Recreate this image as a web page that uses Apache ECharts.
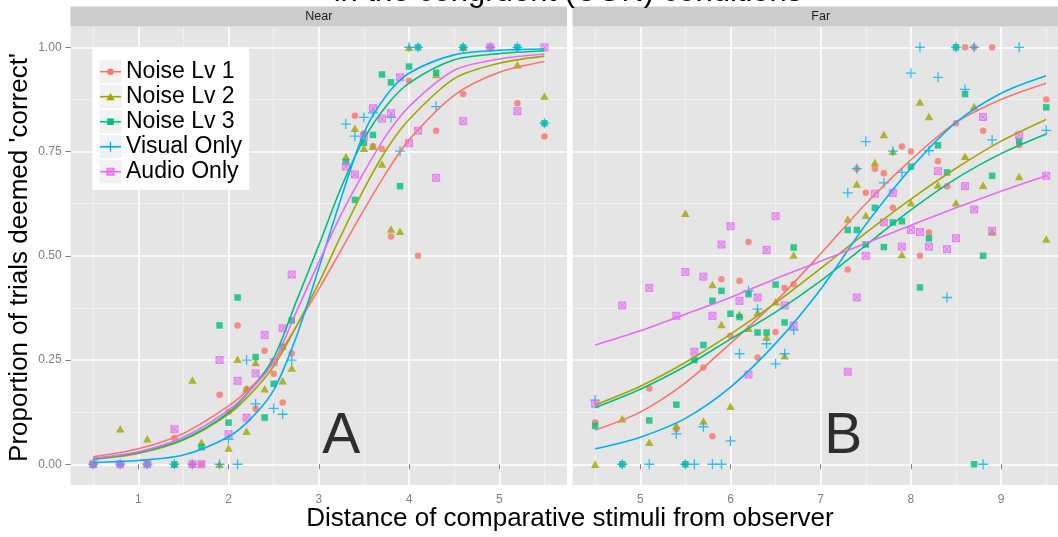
<!DOCTYPE html>
<html><head><meta charset="utf-8">
<script src="https://cdn.jsdelivr.net/npm/echarts@6/dist/echarts.min.js"></script>
<style>html,body{margin:0;padding:0;overflow:hidden;background:#fff;width:1058px;height:537px}#c{width:1070px;height:537px}</style>
</head><body><div id="c"></div><script>
// ---------- data ----------
const seriesNames = ['Noise Lv 1','Noise Lv 2','Noise Lv 3','Visual Only','Audio Only'];
const panelNames = ['Near','Far'];
const annotations = ['A','B'];
const titleText = 'in the congruent (CON) conditions';
const xTitle = 'Distance of comparative stimuli from observer';
const yTitle = "Proportion of trials deemed 'correct'";

const xTicksNear = [1,2,3,4,5];
const xTicksFar = [5,6,7,8,9];
const xMinorNear = [0.5,1.5,2.5,3.5,4.5,5.5];
const xMinorFar = [4.5,5.5,6.5,7.5,8.5,9.5];
const yTicks = [0,0.25,0.5,0.75,1];
const yMinor = [0.125,0.375,0.625,0.875];
const xRangeNear = [0.25,5.75];
const xRangeFar = [4.25,9.75];
const yRange = [-0.05,1.05];
const annotPos = [[3.25,0.064],[7.25,0.064]];

// Near panel points
const nearNoise1 = [[0.5,0],[0.8,0],[1.1,0],[1.4,0.063],[1.6,0],[1.7,0],[1.9,0.167],[2.0,0.126],[2.1,0.333],[2.2,0.18],[2.3,0.133],[2.4,0.272],[2.5,0.217],[2.6,0.148],[2.7,0.266],[3.4,0.836],[3.5,0.794],[3.6,0.763],[3.7,0.756],[3.8,0.546],[4.0,0.92],[4.1,0.5],[4.3,0.8],[4.6,0.888],[4.9,1],[5.2,0.866],[5.5,0.786]];
const nearNoise2 = [[0.5,0],[0.8,0.085],[1.1,0.061],[1.4,0],[1.6,0.202],[1.7,0.053],[1.9,0],[2.0,0.039],[2.1,0.252],[2.2,0.079],[2.2,0.181],[2.3,0.244],[2.4,0.181],[2.6,0.2],[2.7,0.231],[3.3,0.738],[3.4,0.806],[3.5,0.758],[3.6,0.763],[3.7,0.72],[3.8,0.564],[3.9,0.559],[4.0,1],[4.3,0.935],[4.6,1],[5.2,0.958],[5.5,0.883]];
const nearNoise3 = [[0.5,0],[0.8,0],[1.1,0],[1.4,0],[1.7,0.041],[1.9,0.333],[2.0,0.1],[2.1,0.4],[2.3,0.257],[2.4,0.112],[2.5,0.193],[2.6,0.282],[2.7,0.345],[3.3,0.725],[3.4,0.634],[3.5,0.771],[3.6,0.79],[3.7,0.935],[3.8,0.916],[3.9,0.667],[4.0,0.954],[4.1,1],[4.3,0.939],[4.6,1],[5.2,1],[5.5,0.818]];
const nearVisual = [[0.5,0],[0.8,0],[1.1,0],[1.4,0],[1.6,0],[1.9,0],[2.0,0.06],[2.1,0],[2.2,0.25],[2.3,0.145],[2.5,0.134],[2.6,0.12],[2.7,0.25],[3.3,0.816],[3.4,0.787],[3.5,0.832],[3.6,0.843],[3.8,0.832],[3.9,0.751],[4.0,1],[4.1,1],[4.3,0.858],[4.6,1],[4.9,1],[5.2,1],[5.5,0.818]];
const nearAudio = [[0.5,0],[0.8,0],[1.1,0],[1.4,0.084],[1.6,0],[1.7,0],[1.9,0.25],[2.0,0.072],[2.1,0.2],[2.2,0.112],[2.3,0.218],[2.4,0.31],[2.5,0.245],[2.6,0.326],[2.7,0.455],[3.3,0.714],[3.4,0.695],[3.5,0.787],[3.6,0.854],[3.7,0.829],[3.8,0.842],[3.9,0.928],[4.0,0.77],[4.1,0.8],[4.3,0.687],[4.6,0.823],[4.9,1],[5.2,0.847],[5.5,1]];

// Far panel points
const farNoise1 = [[4.5,0.1],[5.1,0.182],[5.4,0.084],[5.7,0.232],[5.8,0.067],[5.9,0.444],[6.0,0.308],[6.1,0.44],[6.2,0.533],[6.3,0.256],[6.5,0.317],[6.6,0.423],[6.7,0.432],[7.3,0.467],[7.4,0.709],[7.5,0.651],[7.6,0.709],[7.7,0.698],[7.8,0.615],[7.9,0.762],[8.0,0.75],[8.1,0.5],[8.2,0.556],[8.3,0.727],[8.4,0.667],[8.5,0.818],[8.6,1],[8.7,1],[8.8,0.8],[8.9,1],[9.2,0.766],[9.5,0.875]];
const farNoise2 = [[4.5,0],[4.8,0.109],[5.1,0.053],[5.4,0.093],[5.5,0.602],[5.7,0.104],[5.8,0.431],[5.9,0.335],[6.0,0.139],[6.1,0.36],[6.2,0.326],[6.3,0.364],[6.4,0.305],[6.5,0.39],[6.6,0.26],[6.7,0.502],[7.3,0.588],[7.4,0.672],[7.5,0.597],[7.6,0.724],[7.7,0.791],[7.8,0.751],[7.9,0.503],[8.0,0.627],[8.1,0.869],[8.2,0.834],[8.3,0.67],[8.5,0.627],[8.6,0.739],[8.7,0.858],[8.8,0.669],[8.9,0.557],[9.2,0.69],[9.5,0.54]];
const farNoise3 = [[4.5,0.092],[4.8,0],[5.1,0.105],[5.4,0.143],[5.5,0],[5.6,0.25],[5.7,0.286],[5.8,0.392],[5.9,0.416],[6.0,0.361],[6.1,0.353],[6.2,0.408],[6.3,0.316],[6.4,0.316],[6.5,0.431],[6.6,0.34],[6.7,0.52],[7.3,0.562],[7.4,0.562],[7.5,0.527],[7.6,0.615],[7.7,0.521],[7.8,0.58],[7.9,0.583],[8.0,0.714],[8.1,0.424],[8.2,0.542],[8.3,0.765],[8.4,0.7],[8.5,1],[8.6,0.888],[8.7,0],[8.8,0.5],[8.9,0.692],[9.2,0.775],[9.5,0.856]];
const farVisual = [[4.5,0.154],[4.8,0],[5.1,0],[5.4,0.073],[5.5,0],[5.6,0],[5.7,0.09],[5.8,0],[5.9,0],[6.0,0.056],[6.1,0.265],[6.2,0.416],[6.3,0.372],[6.4,0.289],[6.5,0.241],[6.6,0.265],[6.7,0.322],[7.3,0.651],[7.4,0.709],[7.5,0.774],[7.7,0.675],[7.8,0.751],[7.9,0.7],[8.0,0.938],[8.1,1],[8.2,0.752],[8.3,0.928],[8.4,0.4],[8.5,1],[8.6,0.899],[8.7,1],[8.8,0],[8.9,0.778],[9.2,1],[9.5,0.801]];
const farAudio = [[4.5,0.145],[4.8,0.381],[5.1,0.423],[5.4,0.356],[5.5,0.461],[5.6,0.27],[5.7,0.45],[5.8,0.356],[5.9,0.527],[6.0,0.571],[6.1,0.392],[6.2,0.215],[6.3,0.4],[6.4,0.514],[6.5,0.595],[6.6,0.381],[6.7,0.333],[7.3,0.222],[7.4,0.4],[7.5,0.5],[7.6,0.649],[7.7,0.58],[7.8,0.651],[7.9,0.522],[8.0,0.562],[8.1,0.557],[8.2,0.522],[8.3,0.703],[8.4,0.516],[8.5,0.542],[8.6,0.667],[8.7,0.611],[8.8,0.833],[8.9,0.56],[9.2,0.789],[9.5,0.692]];

// fitted curves
const nearCurveX = [0.5,1,1.5,2,2.25,2.5,2.75,3,3.25,3.5,3.75,4,4.5,5,5.5];
const nearFit1 = [0.018,0.037,0.074,0.14,0.185,0.245,0.33,0.42,0.515,0.61,0.70,0.778,0.885,0.94,0.966];
const nearFit2 = [0.012,0.026,0.058,0.12,0.17,0.235,0.33,0.435,0.55,0.66,0.755,0.827,0.925,0.962,0.979];
const nearFit3 = [0.012,0.028,0.06,0.124,0.18,0.255,0.39,0.525,0.665,0.78,0.86,0.914,0.97,0.985,0.992];
const nearFitV = [0.004,0.009,0.022,0.066,0.11,0.178,0.305,0.47,0.64,0.795,0.885,0.938,0.982,0.993,0.996];
const nearFitA = [0.015,0.03,0.065,0.13,0.18,0.245,0.365,0.485,0.6,0.70,0.79,0.858,0.945,0.972,0.984];
const farCurveX = [4.5,5,5.5,6,6.5,7,7.5,8,8.5,9,9.5];
const farFit1 = [0.082,0.125,0.195,0.29,0.39,0.505,0.625,0.73,0.82,0.875,0.914];
const farFit2 = [0.142,0.187,0.244,0.312,0.387,0.47,0.555,0.636,0.71,0.775,0.827];
const farFit3 = [0.136,0.18,0.235,0.30,0.365,0.44,0.525,0.61,0.685,0.745,0.792];
const farFitV = [0.037,0.065,0.11,0.185,0.29,0.42,0.575,0.71,0.82,0.89,0.932];
const farFitA = [0.286,0.32,0.36,0.40,0.445,0.487,0.53,0.573,0.615,0.655,0.692];

// ---------- styles ----------
const colors = ['#F8766D','#A3A500','#00BF7D','#00B0F6','#E76BF3'];
const FONT = 'Liberation Sans, Arial, Helvetica, sans-serif';
const symbols = ['circle','triangle','rect','path://M5,0L5,10M0,5L10,5','path://M0,0L10,0L10,10L0,10ZM0,0L10,10M10,0L0,10'];
const symbolSizes = [6.5,[8.5,7.5],6.5,10,7];
function itemStyleFor(i){
  if(i===3) return {color:'rgba(0,0,0,0)',borderColor:colors[i],borderWidth:1.3};
  if(i===4) return {color:'rgba(231,107,243,0.55)',borderColor:colors[i],borderWidth:1};
  return {color:colors[i],borderWidth:0};
}

const panels = [
  {points:[nearNoise1,nearNoise2,nearNoise3,nearVisual,nearAudio], fits:[nearFit1,nearFit2,nearFit3,nearFitV,nearFitA], cx:nearCurveX, xr:xRangeNear, ticks:xTicksNear, minor:xMinorNear},
  {points:[farNoise1,farNoise2,farNoise3,farVisual,farAudio], fits:[farFit1,farFit2,farFit3,farFitV,farFitA], cx:farCurveX, xr:xRangeFar, ticks:xTicksFar, minor:xMinorFar}
];

const PT = 26.5, PB = 485.1;
const gridBoxes = [{left:70.6, right:1070-567.0}, {left:572.6, right:1070-1068.8}];

const grid = gridBoxes.map(g => ({left:g.left, right:g.right, top:PT, height:PB-PT, show:true, backgroundColor:'#E5E5E5', borderWidth:0, containLabel:false}));

const xAxis = [], yAxis = [];
panels.forEach((p, g) => {
  xAxis.push({type:'value', gridIndex:g, min:p.xr[0], max:p.xr[1], position:'bottom', z:1,
    axisLine:{show:false},
    axisTick:{show:true, length:5, lineStyle:{color:'#7F7F7F', width:1}, customValues:p.ticks},
    axisLabel:{show:true, customValues:p.ticks, margin:9, fontSize:12, color:'#7F7F7F', fontFamily:FONT},
    splitLine:{show:true, lineStyle:{color:'#FFFFFF', width:1.6}}});
  xAxis.push({type:'value', gridIndex:g, min:p.xr[0], max:p.xr[1], position:'top', z:0,
    axisLine:{show:false}, axisTick:{show:false, customValues:p.minor}, axisLabel:{show:false},
    splitLine:{show:true, lineStyle:{color:'#F2F2F2', width:0.8}}});
  yAxis.push({type:'value', gridIndex:g, min:yRange[0], max:yRange[1], position:'left', z:1,
    axisLine:{show:false},
    axisTick:{show:g===0, length:5, lineStyle:{color:'#7F7F7F', width:1}, customValues:yTicks},
    axisLabel:{show:g===0, customValues:yTicks, margin:9, fontSize:12, color:'#7F7F7F', fontFamily:FONT, formatter:v=>Number(v).toFixed(2)},
    splitLine:{show:true, lineStyle:{color:'#FFFFFF', width:1.6}}});
  yAxis.push({type:'value', gridIndex:g, min:yRange[0], max:yRange[1], position:'right', z:0,
    axisLine:{show:false}, axisTick:{show:false, customValues:yMinor}, axisLabel:{show:false},
    splitLine:{show:true, lineStyle:{color:'#F2F2F2', width:0.8}}});
});

const series = [];
panels.forEach((p, g) => {
  p.points.forEach((pts, i) => {
    series.push({type:'scatter', name:seriesNames[i], xAxisIndex:g*2, yAxisIndex:g*2, data:pts,
      symbol:symbols[i], symbolSize:symbolSizes[i], itemStyle:itemStyleFor(i), z:2, silent:true, emphasis:{disabled:true}});
  });
  p.fits.forEach((f, i) => {
    series.push({type:'line', name:seriesNames[i]+' fit', xAxisIndex:g*2, yAxisIndex:g*2,
      data:p.cx.map((x,k)=>[x,f[k]]), showSymbol:false, symbol:'none', smooth:0.3,
      lineStyle:{color:colors[i], width:1.6}, z:3, silent:true, emphasis:{disabled:true}});
  });
  series.push({type:'scatter', xAxisIndex:g*2, yAxisIndex:g*2, data:[annotPos[g]], symbolSize:1,
    itemStyle:{color:'rgba(0,0,0,0)'}, z:4, silent:true,
    label:{show:true, position:'inside', formatter:annotations[g], fontSize:57, color:'#000', fontFamily:FONT}});
});

// graphic: title, axis titles, strips, legend
const graphic = [];
graphic.push({type:'text', z:50, style:{text:titleText, x:568, y:-8, align:'center', verticalAlign:'middle', textAlign:'center', textVerticalAlign:'middle', fontSize:31, fontFamily:FONT, fill:'#000'}});
graphic.push({type:'text', z:50, style:{text:xTitle, x:570, y:519, align:'center', verticalAlign:'middle', textAlign:'center', textVerticalAlign:'middle', fontSize:26, fontFamily:FONT, fill:'#000'}});
graphic.push({type:'text', z:50, x:19.6, y:257.5, rotation:Math.PI/2, style:{text:yTitle, x:0, y:0, align:'center', verticalAlign:'middle', textAlign:'center', textVerticalAlign:'middle', fontSize:26, fontFamily:FONT, fill:'#000'}});
gridBoxes.forEach((g, k) => {
  const x0 = g.left, x1 = 1070 - g.right;
  graphic.push({type:'rect', z:40, shape:{x:x0, y:6.5, width:x1-x0, height:PT-6.5}, style:{fill:'#CCCCCC'}});
  graphic.push({type:'text', z:41, style:{text:panelNames[k], x:(x0+x1)/2, y:(6.5+PT)/2, align:'center', verticalAlign:'middle', textAlign:'center', textVerticalAlign:'middle', fontSize:12.5, fontFamily:FONT, fill:'#1A1A1A'}});
});
// legend
graphic.push({type:'rect', z:60, shape:{x:92.3, y:47.3, width:157, height:142.7}, style:{fill:'#FFFFFF'}});
seriesNames.forEach((name, i) => {
  const top = 60 + 25*i, cy = top + 11.7, cx = 110.5, c = colors[i];
  graphic.push({type:'rect', z:61, shape:{x:99.3, y:top, width:22.4, height:23.3}, style:{fill:'#F2F2F2'}});
  graphic.push({type:'line', z:62, shape:{x1:100, y1:cy, x2:121, y2:cy}, style:{stroke:c, lineWidth:1.6}});
  if(i===0) graphic.push({type:'circle', z:63, shape:{cx:cx, cy:cy, r:3.3}, style:{fill:c}});
  if(i===1) graphic.push({type:'polygon', z:63, shape:{points:[[cx-4.2,cy+3.5],[cx+4.2,cy+3.5],[cx,cy-3.8]]}, style:{fill:c}});
  if(i===2) graphic.push({type:'rect', z:63, shape:{x:cx-3.3, y:cy-3.3, width:6.6, height:6.6}, style:{fill:c}});
  if(i===3){
    graphic.push({type:'line', z:63, shape:{x1:cx-5, y1:cy, x2:cx+5, y2:cy}, style:{stroke:c, lineWidth:1.3}});
    graphic.push({type:'line', z:63, shape:{x1:cx, y1:cy-5, x2:cx, y2:cy+5}, style:{stroke:c, lineWidth:1.3}});
  }
  if(i===4){
    graphic.push({type:'rect', z:63, shape:{x:cx-3.5, y:cy-3.5, width:7, height:7}, style:{fill:'rgba(231,107,243,0.55)', stroke:c, lineWidth:1}});
    graphic.push({type:'line', z:63, shape:{x1:cx-3.5, y1:cy-3.5, x2:cx+3.5, y2:cy+3.5}, style:{stroke:c, lineWidth:1}});
    graphic.push({type:'line', z:63, shape:{x1:cx+3.5, y1:cy-3.5, x2:cx-3.5, y2:cy+3.5}, style:{stroke:c, lineWidth:1}});
  }
  graphic.push({type:'text', z:63, style:{text:name, x:126, y:cy, align:'left', verticalAlign:'middle', textAlign:'left', textVerticalAlign:'middle', fontSize:23, fontFamily:FONT, fill:'#000'}});
});

const chart = echarts.init(document.getElementById('c'), null, {renderer:'canvas'});
chart.setOption({animation:false, backgroundColor:'#FFFFFF', grid, xAxis, yAxis, series, graphic});
</script></body></html>
